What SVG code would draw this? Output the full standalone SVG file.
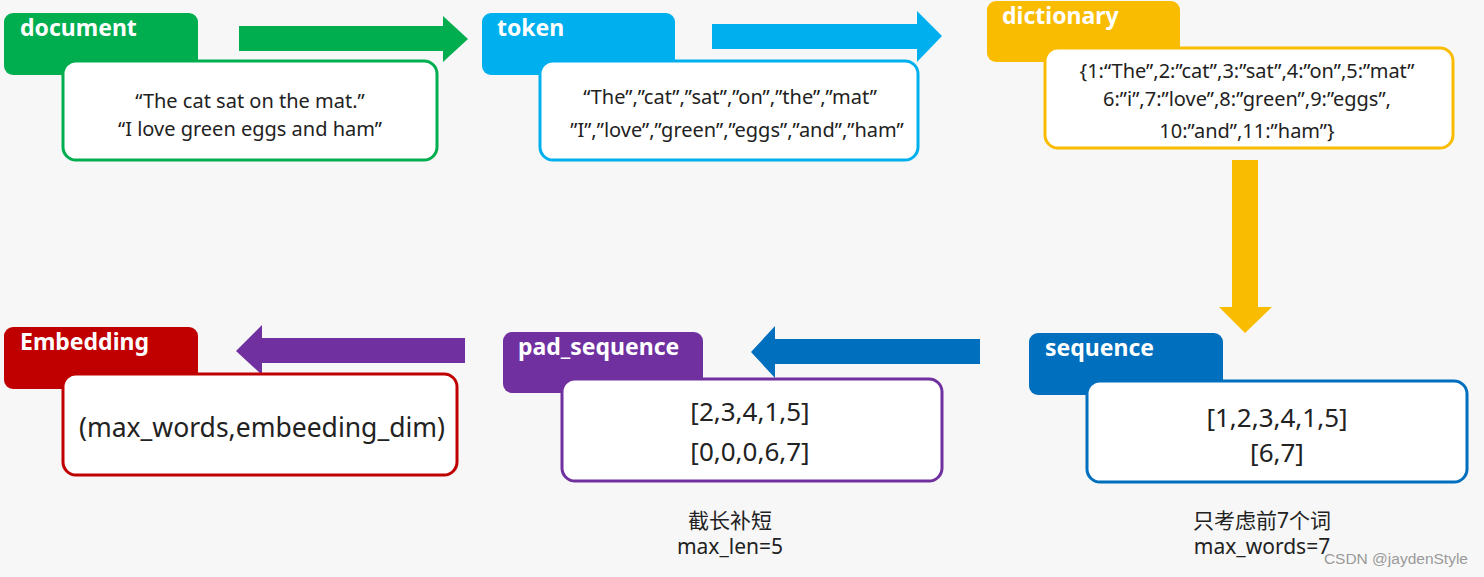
<svg xmlns="http://www.w3.org/2000/svg" width="1484" height="577" viewBox="0 0 1484 577">
<style>
.tab{stroke:none}
.box{fill:#ffffff;stroke-width:3}
.lbl{font-family:"Noto Sans","Liberation Sans",sans-serif;font-weight:bold;font-size:23px;fill:#ffffff}
.txt{font-family:"Noto Sans","Liberation Sans",sans-serif;font-size:20px;fill:#222222;text-anchor:middle}
.big{font-family:"Noto Sans","Liberation Sans",sans-serif;font-size:26px;fill:#222222;text-anchor:middle}
.note{font-family:"Noto Sans","Noto Sans CJK SC",sans-serif;font-size:21px;fill:#222222;text-anchor:middle}
</style>
<rect x="0" y="0" width="1484" height="577" fill="#f7f7f7"/>

<g id="connectors">
<polygon points="239,26 443,26 443,16 468,39 443,62 443,51 239,51" fill="#00ad4f"/>
<polygon points="712,24 917,24 917,11 942,36 917,62 917,49 712,49" fill="#00b0ee"/>
<polygon points="1232,160 1258,160 1258,307 1272,307 1245,333 1219,307 1232,307" fill="#f9bc00"/>
<polygon points="980,339 775,339 775,326 751,352 775,378 775,364 980,364" fill="#006fbe"/>
<polygon points="465,338 262,338 262,325 236,351 262,375 262,363 465,363" fill="#7030a0"/>
</g>

<g id="document">
<rect class="tab" x="4" y="13" width="194" height="62" rx="9" fill="#00ad4f"/>
<text class="lbl" x="20" y="36">document</text>
<rect class="box" x="63" y="61" width="374" height="99" rx="13" stroke="#00ad4f"/>
<text class="txt" x="250" y="108">“The cat sat on the mat.”</text>
<text class="txt" x="250" y="136">“I love green eggs and ham”</text>
</g>

<g id="token">
<rect class="tab" x="482" y="13" width="193" height="62" rx="9" fill="#00b0ee"/>
<text class="lbl" x="497" y="36">token</text>
<rect class="box" x="540" y="61" width="378" height="99" rx="13" stroke="#00b0ee"/>
<text class="txt" x="730" y="104">“The”,”cat”,”sat”,”on”,”the”,”mat”</text>
<text class="txt" x="737" y="137">”I”,”love”,”green”,”eggs”,”and”,”ham”</text>
</g>

<g id="dictionary">
<rect class="tab" x="987" y="1" width="193" height="61" rx="9" fill="#f9bc00"/>
<text class="lbl" x="1002" y="24">dictionary</text>
<rect class="box" x="1045" y="48" width="408" height="100" rx="13" stroke="#f9bc00"/>
<text class="txt" x="1247" y="78">{1:“The”,2:”cat”,3:”sat”,4:”on”,5:”mat”</text>
<text class="txt" x="1247" y="106">6:”i”,7:”love”,8:”green”,9:”eggs”,</text>
<text class="txt" x="1247" y="138">10:”and”,11:”ham”}</text>
</g>

<g id="sequence">
<rect class="tab" x="1029" y="333" width="194" height="62" rx="9" fill="#006fbe"/>
<text class="lbl" x="1045" y="356">sequence</text>
<rect class="box" x="1087" y="381" width="380" height="101" rx="13" stroke="#006fbe"/>
<text class="big" x="1277" y="427">[1,2,3,4,1,5]</text>
<text class="big" x="1277" y="462">[6,7]</text>
<text class="note" x="1262" y="528">只考虑前7个词</text>
<text class="note" x="1262" y="554">max_words=7</text>
</g>

<g id="pad_sequence">
<rect class="tab" x="503" y="332" width="200" height="61" rx="9" fill="#7030a0"/>
<text class="lbl" x="518" y="355">pad_sequence</text>
<rect class="box" x="562" y="379" width="380" height="102" rx="13" stroke="#7030a0"/>
<text class="big" x="750" y="421">[2,3,4,1,5]</text>
<text class="big" x="750" y="461">[0,0,0,6,7]</text>
<text class="note" x="730" y="528">截长补短</text>
<text class="note" x="730" y="554">max_len=5</text>
</g>

<g id="embedding">
<rect class="tab" x="4" y="327" width="194" height="62" rx="9" fill="#c00000"/>
<text class="lbl" x="20" y="350">Embedding</text>
<rect class="box" x="63" y="374" width="394" height="101" rx="13" stroke="#c00000"/>
<text class="big" x="262" y="437" style="font-size:26.5px">(max_words,embeeding_dim)</text>
</g>

<text x="1468" y="564" text-anchor="end" font-family="Liberation Sans, sans-serif" font-size="15.5" fill="#9a9a9a">CSDN @jaydenStyle</text>
</svg>
